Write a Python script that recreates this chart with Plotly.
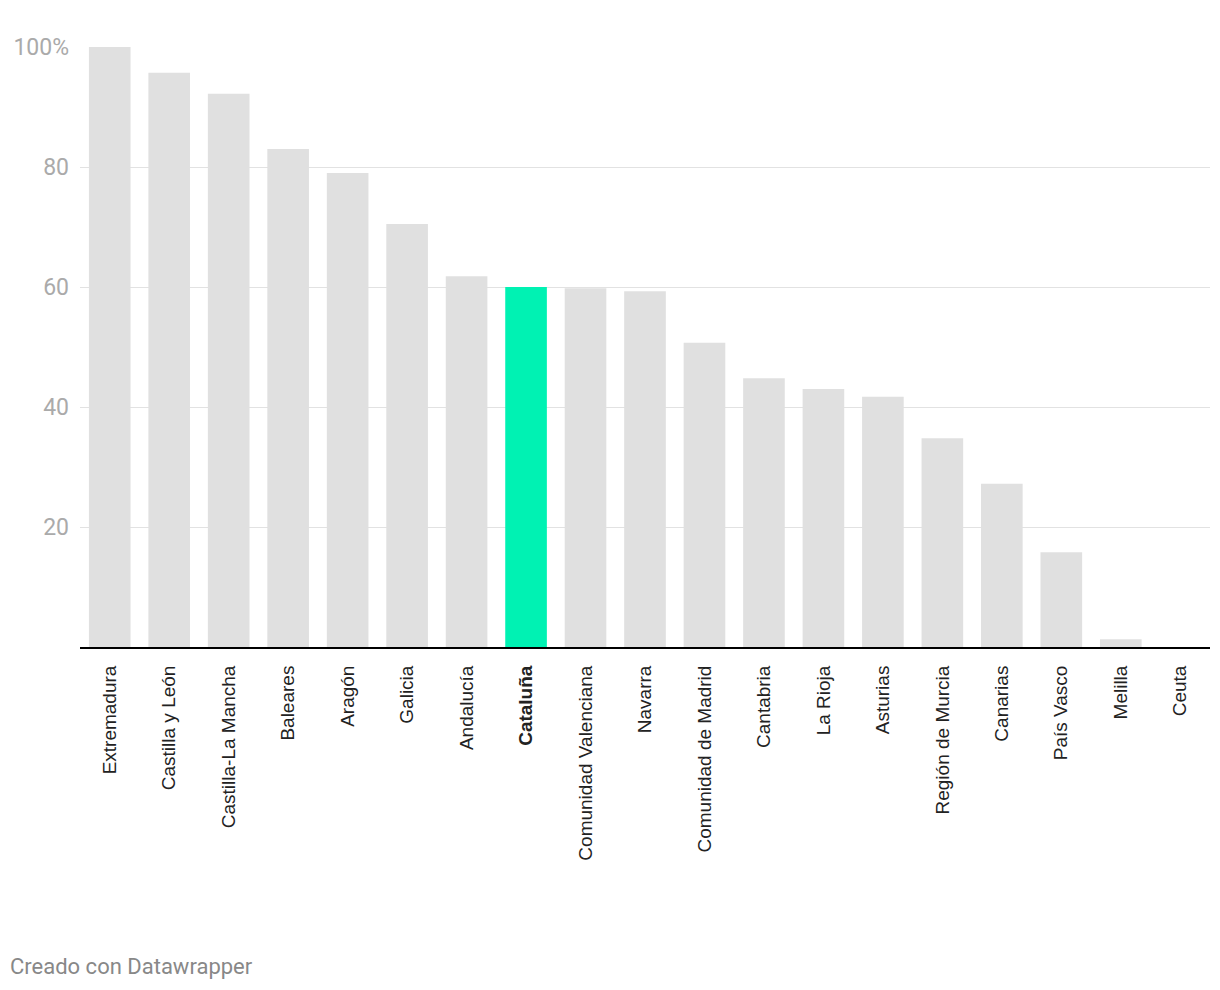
import plotly.graph_objects as go

regions = ["Extremadura", "Castilla y León", "Castilla-La Mancha", "Baleares", "Aragón",
           "Galicia", "Andalucía", "Cataluña", "Comunidad Valenciana", "Navarra",
           "Comunidad de Madrid", "Cantabria", "La Rioja", "Asturias", "Región de Murcia",
           "Canarias", "País Vasco", "Melilla", "Ceuta"]
values = [100, 95.7, 92.2, 83.0, 79.0, 70.5, 61.8, 60.0, 59.8, 59.3,
          50.7, 44.8, 43.0, 41.7, 34.8, 27.2, 15.8, 1.3, 0]
highlight = "Cataluña"
ytick_vals = [20, 40, 60, 80, 100]
ytick_text = ["20", "40", "60", "80", "100%"]

colors = ["#00f2b3" if r == highlight else "#e0e0e0" for r in regions]
ticktext = ["<b>%s</b>" % r if r == highlight else r for r in regions]

fig = go.Figure(go.Bar(x=regions, y=values, marker=dict(color=colors, line=dict(width=0)),
                       hoverinfo="x+y"))

# page has an 8px body margin; figure sized so the plot lands where the reference has it
W, H = 1212, 982
L, R, T, B = 72, 10, 39, 343
fig.update_layout(
    width=W, height=H,
    margin=dict(l=L, r=R, t=T, b=B, pad=0, autoexpand=False),
    paper_bgcolor="white", plot_bgcolor="white",
    bargap=0.3,
    showlegend=False,
    font=dict(family="Roboto", color="#333333"),
    xaxis=dict(
        tickmode="array", tickvals=regions, ticktext=ticktext,
        tickangle=-90, tickfont=dict(size=19, color="#222222", family="Liberation Sans"),
        showline=True, linecolor="#000000", linewidth=2,
        showgrid=False, ticks="", ticklabelstandoff=9,
        fixedrange=True, automargin=False,
    ),
    yaxis=dict(
        range=[0, 100], tickmode="array", tickvals=ytick_vals, ticktext=ytick_text,
        tickfont=dict(size=23, color="#aaaaaa", family="Roboto"),
        showgrid=True, gridcolor="#e2e2e2", gridwidth=1,
        zeroline=False, showline=False, ticks="", ticklabelstandoff=10,
        fixedrange=True, automargin=False,
    ),
)

fig.add_annotation(
    text="Creado con Datawrapper", xref="paper", yref="paper",
    x=(0 - L) / (W - L - R), y=(H - B - 958) / (H - T - B),
    xanchor="left", yanchor="middle", showarrow=False,
    font=dict(size=22, color="#888888", family="Roboto"),
)

fig.write_html("out.html")
